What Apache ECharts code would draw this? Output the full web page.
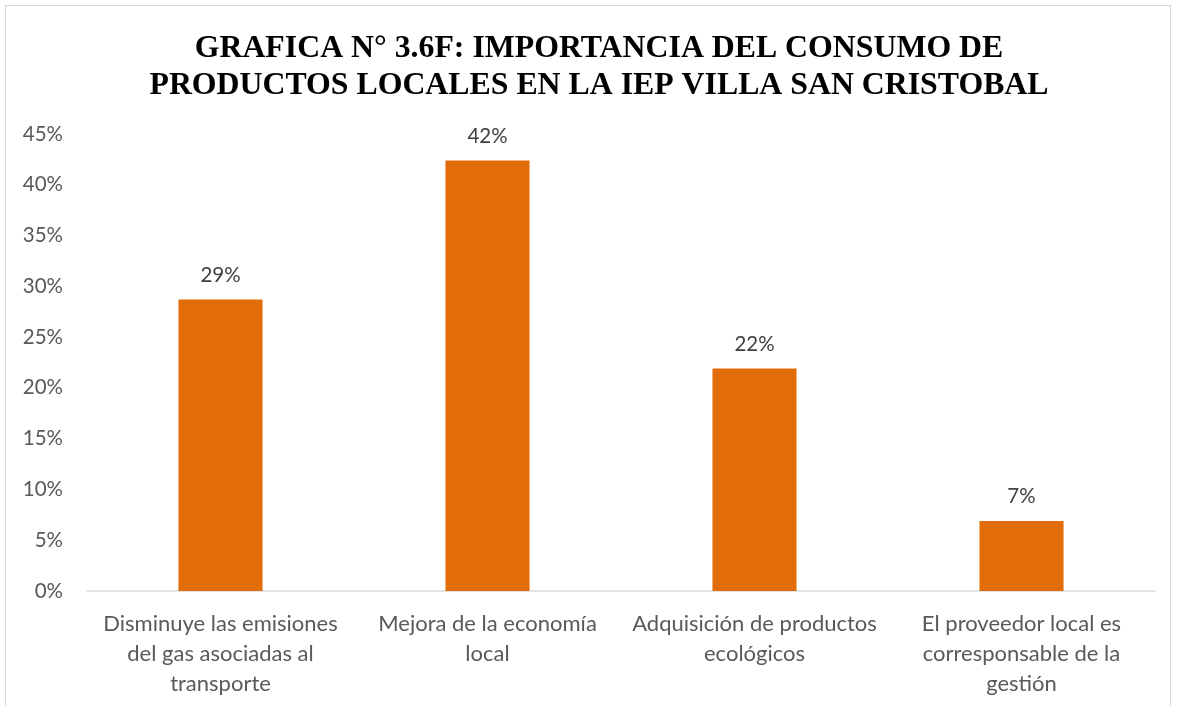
<!DOCTYPE html>
<html>
<head>
<meta charset="utf-8">
<script src="https://cdn.jsdelivr.net/npm/echarts@6/dist/echarts.min.js"></script>
<style>
html,body{margin:0;padding:0;background:#fff;overflow:hidden;}
#frame{position:absolute;left:5px;top:5px;width:1166px;height:720px;border:1px solid #d9d9d9;box-sizing:border-box;}
#chart{position:absolute;left:0;top:0;width:1178px;height:706px;}
</style>
</head>
<body>
<div id="frame"></div>
<div id="chart"></div>
<script>
const titleLines = ["GRAFICA N° 3.6F: IMPORTANCIA DEL CONSUMO DE", "PRODUCTOS LOCALES EN LA IEP VILLA SAN CRISTOBAL"];
const categories = [
  "Disminuye las emisiones\ndel gas asociadas al\ntransporte",
  "Mejora de la economía\nlocal",
  "Adquisición de productos\necológicos",
  "El proveedor local es\ncorresponsable de la\ngestión"
];
const values = [0.287, 0.424, 0.219, 0.069];
const yMin = 0, yMax = 0.45, yStep = 0.05;

const chart = echarts.init(document.getElementById('chart'));
chart.setOption({
  backgroundColor: 'transparent',
  animation: false,
  title: {
    text: titleLines.join('\n'),
    left: 594,
    textAlign: 'center',
    top: 25,
    textStyle: {
      fontFamily: '"Liberation Serif", "Times New Roman", serif',
      fontWeight: 'bold',
      fontSize: 31.8,
      lineHeight: 37,
      color: '#000'
    }
  },
  grid: { left: 87, right: 23, top: 134, bottom: 115 },
  xAxis: {
    type: 'category',
    data: categories,
    axisLine: { lineStyle: { color: '#d9d9d9', width: 1.5 } },
    axisTick: { show: false },
    axisLabel: {
      interval: 0,
      margin: 18,
      fontFamily: 'Lato, "Open Sans", sans-serif',
      fontSize: 22,
      lineHeight: 30,
      color: '#595959'
    }
  },
  yAxis: {
    type: 'value',
    min: yMin, max: yMax, interval: yStep,
    splitLine: { show: false },
    axisLine: { show: false },
    axisTick: { show: false },
    axisLabel: {
      margin: 24,
      fontFamily: 'Lato, "Open Sans", sans-serif',
      fontSize: 20.5,
      color: '#595959',
      formatter: v => Math.round(v * 100) + '%'
    }
  },
  series: [{
    type: 'bar',
    data: values,
    barWidth: '31.5%',
    itemStyle: { color: '#E36C0A' },
    label: {
      show: true,
      position: 'top',
      distance: 14,
      fontFamily: 'Lato, "Open Sans", sans-serif',
      fontSize: 20.5,
      color: '#404040',
      formatter: p => Math.round(p.value * 100) + '%'
    }
  }]
});
</script>
</body>
</html>
